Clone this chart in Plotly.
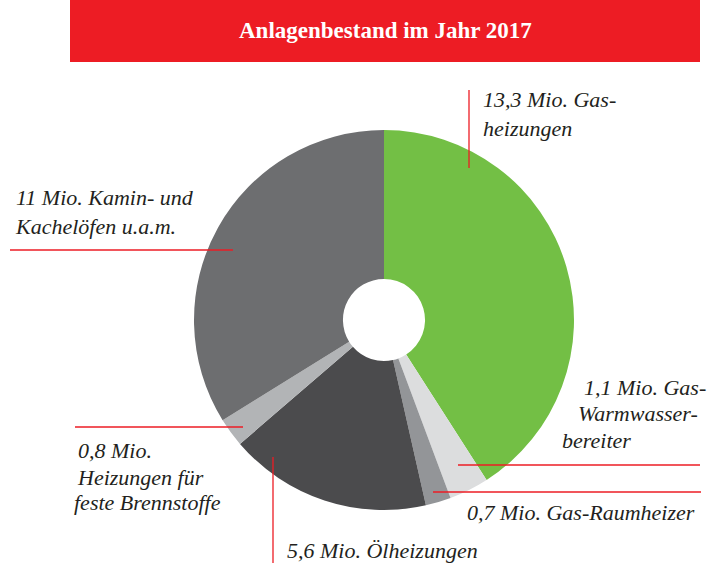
import plotly.graph_objects as go

W, H = 723, 566

# Anlagenbestand 2017 (Mio.), im Uhrzeigersinn ab 12 Uhr
kategorien = ["Gasheizungen", "Gas-Warmwasserbereiter", "Gas-Raumheizer",
              "Ölheizungen", "Heizungen für feste Brennstoffe", "Kamin- und Kachelöfen u.a.m."]
werte = [13.3, 1.1, 0.7, 5.6, 0.8, 11.0]
farben = ["#73BF45", "#DCDDDE", "#939598", "#4B4B4D", "#B2B4B6", "#6D6E70"]

ROT = "#ED1C24"
TEXT = "#231F20"
SERIF = "Liberation Serif, Times New Roman, serif"


def px_x(x):
    return x / W


def px_y(y):
    return 1 - y / H


fig = go.Figure(go.Pie(
    labels=kategorien,
    values=werte,
    marker=dict(colors=farben, line=dict(width=0)),
    hole=0.216,
    sort=False,
    direction="clockwise",
    rotation=0,
    textinfo="none",
    hoverinfo="label+value",
    domain=dict(x=[px_x(194), px_x(574)], y=[px_y(510), px_y(130)]),
    showlegend=False,
))

# Titelbalken
fig.add_shape(type="rect", xref="paper", yref="paper",
              x0=px_x(70), x1=px_x(700), y0=px_y(62), y1=px_y(0),
              fillcolor=ROT, line=dict(width=0), layer="below")
fig.add_annotation(x=px_x(385), y=px_y(30), xref="paper", yref="paper",
                   xanchor="center", yanchor="middle",
                   text="<b>Anlagenbestand im Jahr 2017</b>", showarrow=False,
                   font=dict(family=SERIF, size=23, color="white"))

# rote Hinweislinien (Pixel)
linien = [
    (469, 90, 469, 168),
    (10, 250, 233, 250),
    (458, 465, 700, 465),
    (433, 492, 701, 492),
    (75, 427, 243, 427),
    (273, 457, 273, 563),
]
for x0, y0, x1, y1 in linien:
    fig.add_shape(type="line", xref="paper", yref="paper",
                  x0=px_x(x0), y0=px_y(y0), x1=px_x(x1), y1=px_y(y1),
                  line=dict(color=ROT, width=1.3))

# Beschriftungen (links ausgerichtet, x = linker Rand, y = Mitte)
beschriftungen = [
    ("13,3 Mio. Gas-<br>heizungen", 481, 114),
    ("11 Mio. Kamin- und<br>Kachelöfen u.a.m.", 13, 212),
    ("1,1 Mio. Gas-", 582, 387),
    ("Warmwasser-", 576, 413),
    ("bereiter", 560, 440),
    ("0,7 Mio. Gas-Raumheizer", 465, 512),
    ("0,8 Mio.", 76, 450),
    ("Heizungen für", 75, 477),
    ("feste Brennstoffe", 72, 502),
    ("5,6 Mio. Ölheizungen", 285, 550),
]
for text, x, y in beschriftungen:
    fig.add_annotation(x=px_x(x), y=px_y(y), xref="paper", yref="paper",
                       text=f"<i>{text}</i>", showarrow=False,
                       xanchor="left", yanchor="middle", align="left",
                       font=dict(family=SERIF, size=22, color=TEXT))

fig.update_layout(
    width=W, height=H,
    margin=dict(l=0, r=0, t=0, b=0),
    paper_bgcolor="white",
    plot_bgcolor="white",
)

fig.write_html("out.html", config={"displayModeBar": False},
               post_script="document.body.style.margin='0';")
